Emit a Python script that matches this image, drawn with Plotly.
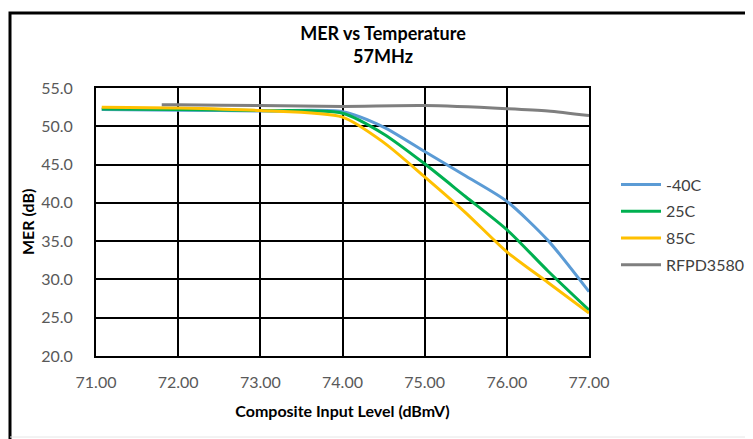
import plotly.graph_objects as go

x_temp = [71.07, 72.0, 73.0, 74.0, 74.5, 75.0, 75.5, 76.0, 76.5, 77.0]
mer_m40 = [52.2, 52.1, 52.0, 51.9, 49.9, 46.7, 43.5, 40.2, 35.1, 28.4]
mer_25 = [52.25, 52.2, 52.05, 51.7, 49.0, 45.1, 40.8, 36.5, 31.1, 26.0]
mer_85 = [52.5, 52.4, 52.05, 51.2, 47.9, 43.4, 38.7, 33.6, 29.6, 25.6]
x_ref = [71.8, 72.0, 73.0, 74.0, 75.0, 76.0, 76.5, 77.0]
mer_ref = [52.8, 52.8, 52.7, 52.6, 52.7, 52.3, 52.0, 51.4]

series = [
    ("-40C", x_temp, mer_m40, "#5B9BD5"),
    ("25C", x_temp, mer_25, "#00B050"),
    ("85C", x_temp, mer_85, "#FFC000"),
    ("RFPD3580", x_ref, mer_ref, "#7F7F7F"),
]

x_ticks = [71, 72, 73, 74, 75, 76, 77]
y_ticks = [20, 25, 30, 35, 40, 45, 50, 55]

FONT = "Lato"
fig = go.Figure()
for i, (name, xs, ys, col) in enumerate(series):
    fig.add_trace(go.Scatter(x=xs, y=ys, name=name, mode="lines", legendgroup=f"g{i}",
                             line=dict(color=col, width=3, shape="spline", smoothing=0.7)))

# page has an 8px body margin; figure coordinates are page coordinates minus 8
OFF = 8
W, H = 745, 431
ml, mt = 96 - OFF, 88 - OFF
mr = W - (589 - OFF)
mb = H - (356 - OFF)
pw, ph = W - ml - mr, H - mt - mb

def px(xpage):
    return (xpage - OFF - ml) / pw

def py(ypage):
    return 1 - (ypage - OFF - mt) / ph

fig.update_layout(
    width=W, height=H,
    margin=dict(l=ml, r=mr, t=mt, b=mb, autoexpand=False),
    paper_bgcolor="white", plot_bgcolor="white",
    font=dict(family=FONT, color="#595959", size=16),
    title=dict(text="<b>MER vs Temperature</b><br><b>57MHz</b>", x=px(383), xref="paper",
               xanchor="center", y=1 - (40 - OFF) / H, yanchor="top",
               font=dict(family=FONT, size=18, color="#000000")),
    showlegend=True,
    legend=dict(xref="container", yref="container",
                x=(616 - OFF) / W, y=1 - (225 - OFF) / H, xanchor="left", yanchor="middle",
                font=dict(family=FONT, size=16, color="#404040"),
                itemwidth=40, traceorder="grouped", tracegroupgap=3,
                bgcolor="rgba(0,0,0,0)"),
    xaxis=dict(range=[71, 77], tickvals=x_ticks, ticktext=[f"{v:.2f}" for v in x_ticks],
               showgrid=True, gridcolor="black", gridwidth=2,
               showline=True, linecolor="black", linewidth=2, mirror=True,
               zeroline=False, ticks="outside", ticklen=11, tickcolor="rgba(0,0,0,0)",
               title=dict(text="<b>Composite Input Level (dBmV)</b>",
                          font=dict(family=FONT, size=16, color="#000000"), standoff=16),
               tickfont=dict(family=FONT, size=16, color="#595959")),
    yaxis=dict(range=[20, 55], tickvals=y_ticks, ticktext=[f"{v:.1f}" for v in y_ticks],
               showgrid=True, gridcolor="black", gridwidth=2,
               showline=True, linecolor="black", linewidth=2, mirror=True,
               zeroline=False, ticks="", ticklabelstandoff=18,
               tickfont=dict(family=FONT, size=16, color="#595959")),
    annotations=[dict(text="<b>MER (dB)</b>", textangle=-90, xref="paper", yref="paper",
                      x=px(27), y=py(222), xanchor="center", yanchor="middle",
                      showarrow=False, font=dict(family=FONT, size=16, color="#000000"))],
)

# outer frame of the chart area (left and top edges black, bottom edge light grey)
x0 = px(10)
x1 = px(W + OFF + 20)
y1 = py(13)
y0 = py(437)
fig.add_shape(type="rect", xref="paper", yref="paper", x0=x0, x1=x1, y0=py(460), y1=y1,
              line=dict(color="black", width=3), fillcolor="rgba(0,0,0,0)", layer="above")
fig.add_shape(type="line", xref="paper", yref="paper", x0=x0, x1=x1, y0=y0, y1=y0,
              line=dict(color="#E6E6E6", width=1))

fig.write_html("out.html")
